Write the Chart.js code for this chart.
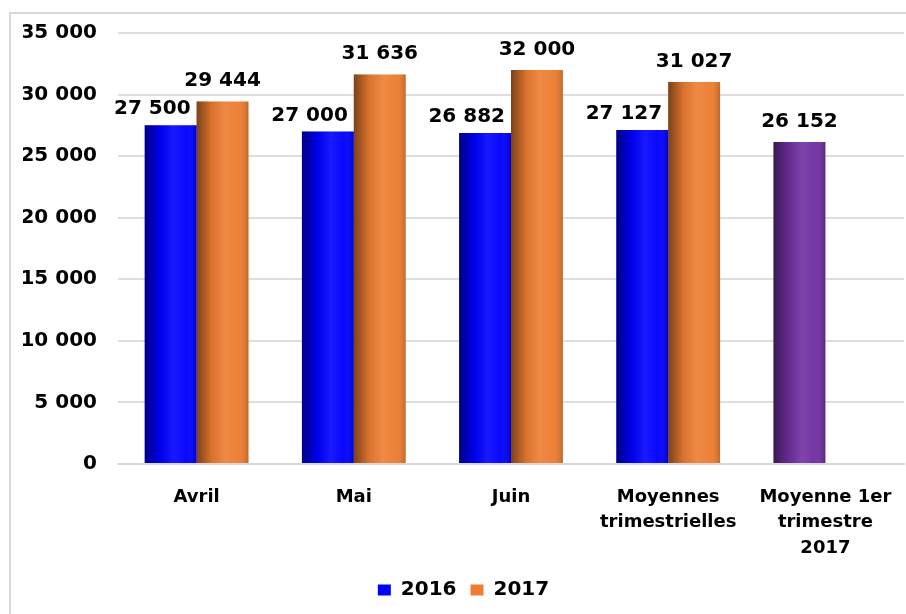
<!DOCTYPE html>
<html>
<head>
<meta charset="utf-8">
<script src="https://cdn.jsdelivr.net/npm/chart.js@4.4.1/dist/chart.umd.min.js"></script>
<style>
  html, body { margin: 0; padding: 0; background: #fff; overflow: hidden; }
  .frame { position: absolute; left: 9px; top: 12px; width: 1000px; height: 1000px; border: 2px solid #d9d9d9; }
  .wrap { position: absolute; left: 0; top: 0; width: 906px; height: 614px; }
</style>
</head>
<body>
<div class="frame"></div>
<div class="wrap"><canvas id="chart" width="906" height="614"></canvas></div>
<script>
// data
const categories = ['Avril', 'Mai', 'Juin', ['Moyennes', 'trimestrielles'], ['Moyenne 1er', 'trimestre', '2017']];
const values2016 = [27500, 27000, 26882, 27127, 26152];
const values2017 = [29444, 31636, 32000, 31027, null];
const yTicks = [0, 5000, 10000, 15000, 20000, 25000, 30000, 35000];

const BLUE = '#0000ff';
const ORANGE = '#ed7d31';
const PURPLE = '#7030a0';
const FONT = '"DejaVu Sans", "Liberation Sans", sans-serif';

const fmt = v => String(v).replace(/\B(?=(\d{3})+(?!\d))/g, ' ');

// cylinder-like shading plus the value labels on top of each bar
const barDecor = {
  id: 'barDecor',
  afterDatasetsDraw(chart) {
    const ctx = chart.ctx;
    chart.data.datasets.forEach((ds, di) => {
      const meta = chart.getDatasetMeta(di);
      meta.data.forEach((el, i) => {
        if (ds.data[i] == null) return;
        const p = el.getProps(['x', 'y', 'base', 'width'], true);
        const left = p.x - p.width / 2, right = p.x + p.width / 2;
        const g = ctx.createLinearGradient(left, 0, right, 0);
        g.addColorStop(0, 'rgba(0,0,0,0.48)');
        g.addColorStop(0.3, 'rgba(0,0,0,0.08)');
        g.addColorStop(0.55, 'rgba(255,255,255,0.10)');
        g.addColorStop(0.8, 'rgba(255,255,255,0.03)');
        g.addColorStop(1, 'rgba(0,0,0,0.18)');
        ctx.save();
        ctx.fillStyle = g;
        ctx.fillRect(left, p.y, p.width, p.base - p.y);
        ctx.restore();
      });
    });
    ctx.save();
    ctx.font = 'bold 20px ' + FONT;
    ctx.fillStyle = '#000';
    ctx.textBaseline = 'alphabetic';
    chart.data.datasets.forEach((ds, di) => {
      const meta = chart.getDatasetMeta(di);
      meta.data.forEach((el, i) => {
        const v = ds.data[i];
        if (v == null) return;
        const p = el.getProps(['x', 'y', 'width'], true);
        const paired = di === 0 && values2017[i] != null;
        if (paired) {
          ctx.textAlign = 'right';
          ctx.fillText(fmt(v), p.x + p.width / 2 - 6, p.y - 11);
        } else {
          ctx.textAlign = 'center';
          ctx.fillText(fmt(v), p.x, p.y - 15);
        }
      });
    });
    ctx.restore();
  }
};

new Chart(document.getElementById('chart'), {
  type: 'bar',
  data: {
    labels: categories,
    datasets: [
      {
        label: '2016',
        data: values2016,
        backgroundColor: values2016.map((v, i) => values2017[i] == null ? PURPLE : BLUE),
        categoryPercentage: 0.66,
        barPercentage: 1
      },
      {
        label: '2017',
        data: values2017,
        backgroundColor: ORANGE,
        categoryPercentage: 0.66,
        barPercentage: 1
      }
    ]
  },
  options: {
    responsive: false,
    animation: false,
    events: [],
    layout: { padding: { top: 32, left: 23, right: 2, bottom: 4 } },
    scales: {
      x: {
        grid: { display: false },
        border: { display: true, color: '#d9d9d9', width: 2 },
        ticks: {
          color: '#000',
          padding: 13,
          maxRotation: 0,
          autoSkip: false,
          font: { family: FONT, size: 18, weight: 'bold', lineHeight: 1.4 }
        },
        afterFit: s => { s.height = 102; }
      },
      y: {
        min: 0,
        max: 35000,
        afterBuildTicks: s => { s.ticks = yTicks.map(v => ({ value: v })); },
        grid: { color: '#dedede', lineWidth: 2, drawTicks: false },
        border: { display: false },
        ticks: {
          color: '#000',
          padding: 21,
          callback: v => fmt(v),
          font: { family: FONT, size: 20, weight: 'bold' }
        },
        afterFit: s => { s.width = 95; }
      }
    },
    plugins: {
      tooltip: { enabled: false },
      legend: {
        position: 'bottom',
        labels: {
          color: '#000',
          boxWidth: 13,
          boxHeight: 11,
          padding: 14,
          font: { family: FONT, size: 20, weight: 'bold' }
        }
      }
    }
  },
  plugins: [barDecor]
});
</script>
</body>
</html>
